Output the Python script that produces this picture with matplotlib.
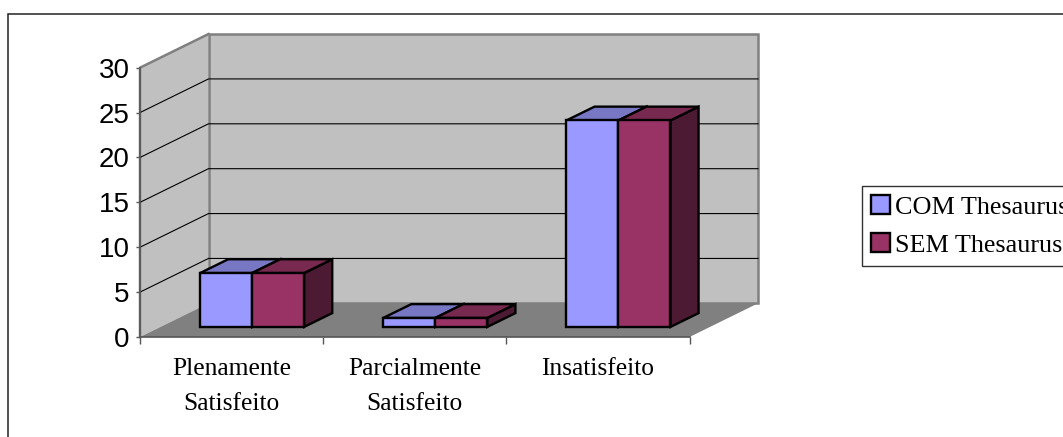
#!/usr/bin/env python
"""
plot.py

Pseudo-3D clustered bars, sheared by hand onto a normal matplotlib axes.
"""
import matplotlib
matplotlib.use("Agg")
import matplotlib.pyplot as plt
from matplotlib.patches import Patch, Polygon, Rectangle

categories = ["Plenamente\nSatisfeito", "Parcialmente\nSatisfeito", "Insatisfeito"]
series_names = ["COM Thesaurus", "SEM Thesaurus"]
com_values = [6, 1, 23]
sem_values = [6, 1, 23]
y_ticks = [0, 5, 10, 15, 20, 25, 30]

W, H = 1063, 437
# how far the back wall is shifted, in data units
DEPTH_X = 0.374
DEPTH_Y = 3.75
BAR_W = 0.284
BAR_D0, BAR_D1 = 0.30, 0.71

FACE = ["#9999FF", "#993366"]
TOP = ["#7777C4", "#78294F"]
SIDE = ["#4D4D80", "#4D1A33"]


def pr(x, y, d):
    """Project category x, value y and depth d (0 front, 1 back) to data coords."""
    return (x + d * DEPTH_X, y + d * DEPTH_Y)


def poly(ax, pts, **kw):
    ax.add_patch(Polygon([pr(*p) for p in pts], closed=True, clip_on=False, **kw))


fig = plt.figure(figsize=(W / 100, H / 100), dpi=100)
fig.add_artist(Rectangle((7.5 / W, -0.1), 1.1, (H - 14.5) / H + 0.1, transform=fig.transFigure,
                         fc="white", ec="#222222", lw=1.1, zorder=-1))

ax = fig.add_axes([140 / W, 1 - 337 / H, (689.5 - 140) / W, (337 - 67.7) / H])
ax.set_xlim(0, 3)
ax.set_ylim(0, 30)
ax.patch.set_visible(False)

# walls and floor
n = len(categories)
top = y_ticks[-1]
wall_edge = dict(ec="#808080", lw=1.8, joinstyle="miter")
poly(ax, [(0, 0, 0), (0, top, 0), (0, top, 1), (0, 0, 1)], fc="#C0C0C0", ec="none", zorder=1)
poly(ax, [(0, 0, 1), (0, top, 1), (n, top, 1), (n, 0, 1)], fc="#C0C0C0", zorder=1, **wall_edge)
poly(ax, [(0, 0, 0), (n, 0, 0), (n, 0, 1), (0, 0, 1)], fc="#808080", ec="none", zorder=1.5)
xs, ys = zip(pr(0, 0, 0), pr(0, top, 0), pr(0, top, 1))
ax.plot(xs, ys, color="#808080", lw=1.8, clip_on=False, zorder=1.6)

# gridlines run over side wall and back wall
for v in y_ticks[1:-1]:
    xs, ys = zip(pr(0, v, 0), pr(0, v, 1), pr(n, v, 1))
    ax.plot(xs, ys, color="black", lw=0.8, clip_on=False, zorder=1.7)

# bars
for s, values in enumerate([com_values, sem_values]):
    for i, v in enumerate(values):
        x0 = i + 0.5 + (s - 1) * BAR_W
        x1 = x0 + BAR_W
        style = dict(ec="black", lw=1.7, joinstyle="miter", zorder=3 + s)
        poly(ax, [(x1, 0, BAR_D0), (x1, v, BAR_D0), (x1, v, BAR_D1), (x1, 0, BAR_D1)], fc=SIDE[s], **style)
        poly(ax, [(x0, v, BAR_D0), (x1, v, BAR_D0), (x1, v, BAR_D1), (x0, v, BAR_D1)], fc=TOP[s], **style)
        poly(ax, [(x0, 0, BAR_D0), (x1, 0, BAR_D0), (x1, v, BAR_D0), (x0, v, BAR_D0)], fc=FACE[s], **style)

# axes
for side in ["top", "right"]:
    ax.spines[side].set_visible(False)
for side in ["left", "bottom"]:
    ax.spines[side].set_color("#555555")
    ax.spines[side].set_linewidth(1.2)
    ax.spines[side].set_zorder(2)

ax.set_yticks(y_ticks)
ax.set_yticklabels([str(v) for v in y_ticks], fontfamily="Liberation Sans", fontsize=20)
ax.tick_params(axis="y", length=3, width=1, color="#555555", pad=4.5)
ax.set_xticks(range(n + 1))
ax.set_xticklabels([])
ax.tick_params(axis="x", which="major", length=5, width=1, color="#555555")
ax.set_xticks([i + 0.5 for i in range(n)], minor=True)
ax.set_xticklabels(categories, minor=True, fontfamily="Liberation Serif", fontsize=18.4, linespacing=1.77)
ax.tick_params(axis="x", which="minor", length=0, pad=15)
for lab in ax.get_xticklabels(minor=True):
    lab.set_verticalalignment("top")

handles = [Patch(fc=FACE[s], ec="black", lw=1.7, label=series_names[s]) for s in range(2)]
fig.legend(handles=handles, loc="upper left", bbox_to_anchor=(861.7 / W, 1 - 185.7 / H),
           prop={"family": "Liberation Serif", "size": 18.8}, fancybox=False, framealpha=1,
           edgecolor="#333333", borderaxespad=0, borderpad=0.36, handlelength=0.74, handleheight=0.74,
           handletextpad=0.17, labelspacing=0.55)

fig.savefig("out.png", dpi=100)
